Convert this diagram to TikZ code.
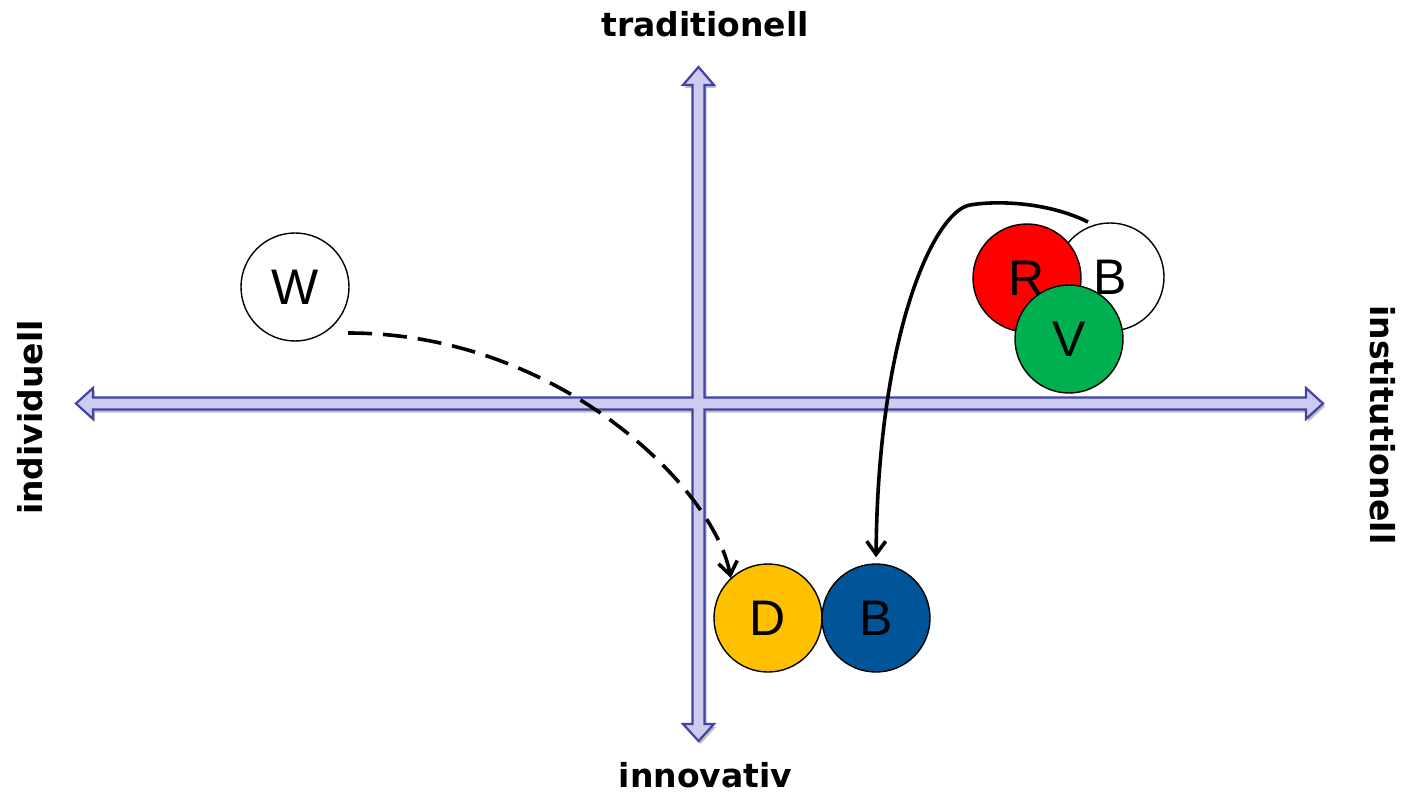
\documentclass[tikz,border=0pt]{standalone}
\usepackage{fontspec}
\setmainfont{Liberation Sans}
\newfontfamily\labelfont{DejaVu Sans}
\usetikzlibrary{arrows.meta,shadows}
\definecolor{axisfill}{RGB}{204,204,240}
\definecolor{axisline}{RGB}{66,66,168}
\definecolor{cred}{RGB}{255,0,0}
\definecolor{cgreen}{RGB}{0,176,80}
\definecolor{cyellow}{RGB}{255,192,0}
\definecolor{cblue}{RGB}{0,85,152}
\begin{document}
\begin{tikzpicture}[x=1pt,y=-1pt,
  axis/.style={fill=axisfill, draw=axisline, line width=2.2pt, line join=miter,
    drop shadow={shadow xshift=2pt, shadow yshift=-3pt, fill=black, opacity=0.25}},
  circ/.style={circle, draw=black, line width=1.4pt, minimum size=108pt, inner sep=0pt,
    font=\fontsize{50}{60}\selectfont},
  lab/.style={font=\labelfont\bfseries\fontsize{33}{40}\selectfont, inner sep=0pt},
  conn/.style={line width=3.6pt, -{Straight Barb[length=13pt,width=19pt]}},
  dashconn/.style={conn, dash pattern=on 24pt off 11pt}
]
\fill[white] (0,0) rectangle (1402,799);
\useasboundingbox (0,0) rectangle (1402,799);

% axes (cross of two double block arrows)
\path[axis] (76,403.5) -- (93,388) -- (93,397.5) -- (692.5,397.5)
  -- (692.5,85) -- (683,85) -- (698.5,67) -- (714,85) -- (704.5,85)
  -- (704.5,397.5) -- (1306,397.5) -- (1306,388) -- (1323,403.5)
  -- (1306,419) -- (1306,409.5) -- (704.5,409.5) -- (704.5,724)
  -- (714,724) -- (698.5,741) -- (683,724) -- (692.5,724)
  -- (692.5,409.5) -- (93,409.5) -- (93,419) -- cycle;

% axis labels
\node[lab, anchor=base] (ltop) at (705,37) {traditionell};
\node[lab, anchor=base] (lbot) at (705.5,787) {innovativ};
\node[lab, anchor=base, rotate=90] (lleft) at (42,417.5) {individuell};
\node[lab, anchor=base, rotate=-90] (lright) at (1370,425) {institutionell};

% circles
\node[circ, fill=white] (W) at (295,287) {W};
\node[circ, fill=white] (B1) at (1110,277) {B};
\node[circ, fill=cred] (R) at (1027,278) {R};
\node[circ, fill=cgreen] (V) at (1069,339) {V};
\node[circ, fill=cyellow] (D) at (768,618) {D};
\node[circ, fill=cblue] (B2) at (876,618) {B};

% connectors
\coordinate (ws) at (348,333);
\coordinate (bs) at (1088,222);
\draw[dashconn] (ws) .. controls (560,333) and (715,490) .. (D.133);
\draw[conn, shorten >=6pt] (bs) .. controls (1050,203) and (1000,200) .. (970,205)
  .. controls (935,211) and (878,330) .. (B2.north);
\end{tikzpicture}
\end{document}
